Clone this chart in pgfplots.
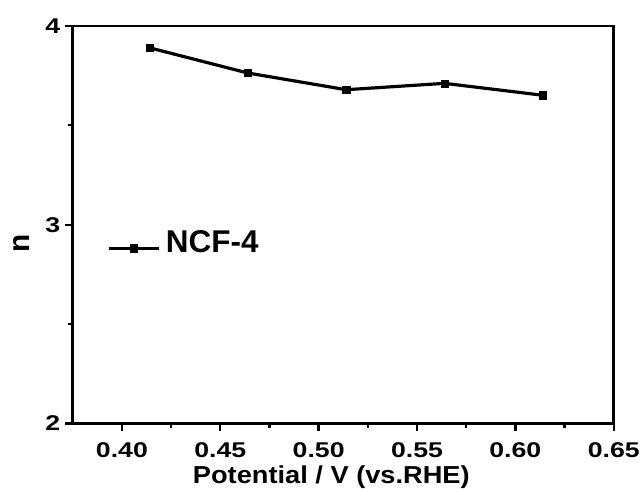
\documentclass[border=0pt]{standalone}
\usepackage{pgfplots}
\pgfplotsset{compat=1.18}
\usepackage{fontspec}
\setmainfont{Liberation Sans}
\newfontfamily\tickfont{Liberation Sans}[FakeStretch=1.25]
\newfontfamily\labfont{Liberation Sans}[FakeStretch=1.11]
\begin{document}
\begin{tikzpicture}
\begin{axis}[
  scale only axis,
  width=543bp, height=399bp,
  xmin=0.375, xmax=0.65,
  ymin=2, ymax=4,
  xtick={0.40,0.45,0.50,0.55,0.60,0.65},
  ytick={2,3,4},
  minor xtick={0.425,0.475,0.525,0.575,0.625},
  minor ytick={2.5,3.5},
  /pgf/number format/assume math mode=true,
  tick align=outside,
  xtick pos=bottom, ytick pos=left,
  major tick length=8bp, minor tick length=5bp,
  every tick/.style={black, line width=2.3pt},
  axis line style={line width=2.6pt},
  ticklabel style={font=\fontsize{21.5}{25}\tickfont\bfseries},
  xticklabel style={yshift=-8bp,
    /pgf/number format/.cd,fixed,fixed zerofill,precision=2},
  yticklabel style={xshift=-1bp},
  xlabel={Potential / V (vs.RHE)},
  ylabel={n},
  xlabel style={font=\fontsize{24.7}{28}\labfont\bfseries,
    at={(axis description cs:0.478,0)}, anchor=base, yshift=-60bp},
  ylabel style={font=\fontsize{30}{34}\selectfont\bfseries,
    at={(axis description cs:-0.0952,0.452)}, anchor=center},
  legend style={draw=none, fill=none, at={(axis cs:0.3927,2.910)}, anchor=west,
    font=\fontsize{31.7}{36}\selectfont\bfseries, inner sep=0pt,
    nodes={inner sep=0pt}},
  legend image code/.code={
    \path[draw=none, fill=none] (0bp,0bp) -- (57bp,0bp);
    \draw[line width=2.8pt] (0bp,-6bp) -- (50bp,-6bp);
    \fill[black] (22.5bp,-8.6bp) rectangle (27.7bp,-3.4bp);
  },
]
\addplot[black, line width=3.2pt, mark=square*, mark size=3.6bp,
  mark options={line width=0.4pt}]
  coordinates {
    (0.414,3.890)
    (0.464,3.763)
    (0.514,3.679)
    (0.564,3.711)
    (0.614,3.651)
  };
\addlegendentry{NCF-4}
\end{axis}
\path (current axis.south west) ++(-73bp,-68bp) coordinate (bbA);
\path (current axis.north east) ++(27bp,26bp) coordinate (bbB);
\useasboundingbox (bbA) rectangle (bbB);
\end{tikzpicture}
\end{document}
